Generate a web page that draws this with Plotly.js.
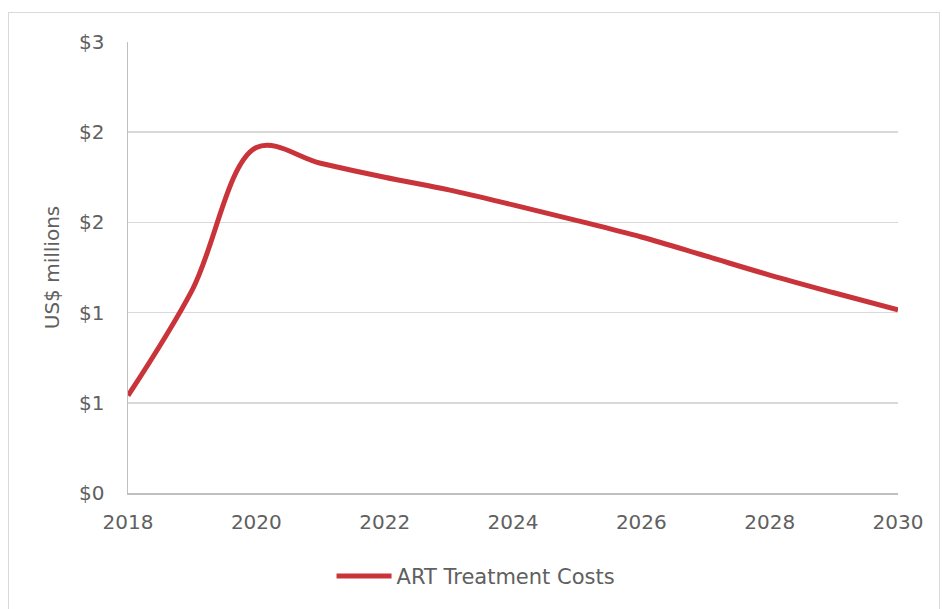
<!DOCTYPE html>
<html><head><meta charset="utf-8">
<script src="https://cdn.plot.ly/plotly-3.0.1.min.js"></script>
<style>
html,body{margin:0;padding:0;background:#fff;}
#frame{position:absolute;left:8px;top:12px;width:932px;height:620px;border:1px solid #d9d9d9;box-sizing:border-box;}
#chart{position:absolute;left:0;top:0;width:942px;height:609px;}
</style></head>
<body>
<div id="frame"></div>
<div id="chart"></div>
<script>
const years = [2018,2019,2020,2021,2022,2023,2024,2025,2026,2027,2028,2029,2030];
const artCosts = [0.54,1.125,1.915,1.828,1.75,1.68,1.597,1.51,1.419,1.314,1.208,1.11,1.015];
const yTickVals = [0,0.5,1,1.5,2,2.5];
const yTickText = ['$0','$1','$1','$2','$2','$3'];
const xTickVals = [2018,2020,2022,2024,2026,2028,2030];

const font = '"DejaVu Sans", sans-serif';
const grey = '#606060';

Plotly.newPlot('chart', [{
  x: years, y: artCosts, type: 'scatter', mode: 'lines',
  name: 'ART Treatment Costs',
  line: {color: '#c9343a', width: 5, shape: 'spline', smoothing: 1}
}], {
  width: 942, height: 609,
  margin: {l: 128, r: 44, t: 42, b: 113},
  paper_bgcolor: 'rgba(0,0,0,0)', plot_bgcolor: 'rgba(0,0,0,0)',
  font: {family: font, color: grey, size: 20},
  showlegend: true,
  legend: {orientation: 'h', x: 0.452, xanchor: 'center', y: -0.185, yanchor: 'middle', itemwidth: 55, font: {size: 21, color: grey}},
  xaxis: {
    range: [2018, 2030], tickvals: xTickVals, ticktext: xTickVals.map(String),
    showgrid: false, zeroline: false, showline: true, linecolor: '#bfbfbf', linewidth: 1.5,
    ticks: '', ticklabelstandoff: 10, tickfont: {size: 20, color: grey}
  },
  yaxis: {
    range: [0, 2.5], tickvals: yTickVals, ticktext: yTickText,
    showgrid: true, gridcolor: '#d9d9d9', gridwidth: 1.5, zeroline: false,
    showline: true, linecolor: '#bfbfbf', linewidth: 1.5, ticks: '', ticklabelstandoff: 18,
    tickfont: {size: 20, color: grey},
    title: {text: 'US$ millions', font: {size: 20, color: grey}, standoff: 14}
  }
}, {displayModeBar: false, staticPlot: true});
</script>
</body></html>
